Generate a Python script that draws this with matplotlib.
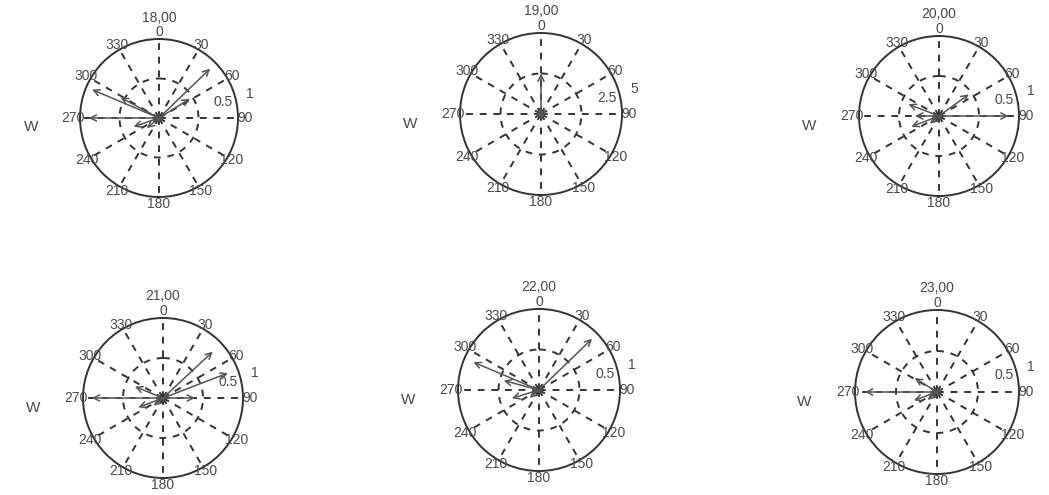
import numpy as np
import matplotlib.pyplot as plt

plt.rcParams['font.family'] = ['Liberation Sans', 'DejaVu Sans']

# wind vectors per hour: direction (deg, clockwise from north) and speed
titles = ['18,00', '19,00', '20,00', '21,00', '22,00', '23,00']

dir_18 = [270, 293, 298, 46, 58, 251, 200, 120, 230]
spd_18 = [0.89, 0.92, 0.55, 0.90, 0.46, 0.34, 0.08, 0.06, 0.2]

dir_19 = [0, 250, 110, 300, 200, 40]
spd_19 = [2.5, 0.35, 0.3, 0.25, 0.2, 0.3]

dir_20 = [90, 54, 291, 249, 270, 160, 230]
spd_20 = [0.87, 0.46, 0.41, 0.37, 0.30, 0.07, 0.15]

dir_21 = [270, 47, 69, 90, 292, 249, 170, 230]
spd_21 = [0.89, 0.85, 0.87, 0.40, 0.38, 0.33, 0.06, 0.15]

dir_22 = [293, 46, 253, 285, 140, 230]
spd_22 = [0.88, 0.91, 0.35, 0.45, 0.07, 0.15]

dir_23 = [270, 302, 250, 60, 150, 230]
spd_23 = [0.88, 0.32, 0.30, 0.08, 0.06, 0.15]

directions = [dir_18, dir_19, dir_20, dir_21, dir_22, dir_23]
speeds = [spd_18, spd_19, spd_20, spd_21, spd_22, spd_23]
rmax = [1, 5, 1, 1, 1, 1]
rlabels = [['0.5', '1'], ['2.5', '5'], ['0.5', '1'],
           ['0.5', '1'], ['0.5', '1'], ['0.5', '1']]

# pixel centre and radius of each compass
centres = [(159, 118, 79), (541, 114, 81), (939, 116, 80),
           (163, 398, 80), (539, 390, 81), (937, 392, 82)]

W, H = 1049, 495
fig = plt.figure(figsize=(W / 100, H / 100), dpi=100)
fig.patch.set_facecolor('white')

txt = '#4a4a4a'
ln = '#333333'
fs = 10

for i in range(6):
    cx, cy, rad = centres[i]
    ax = fig.add_axes([(cx - rad) / W, (H - cy - rad) / H, 2 * rad / W, 2 * rad / H],
                      projection='polar')
    ax.set_theta_zero_location('N')
    ax.set_theta_direction(-1)
    rm = rmax[i]
    ax.set_ylim(0, rm)
    ax.set_xticks(np.radians(np.arange(0, 360, 30)))
    ax.set_xticklabels([])
    ax.set_yticks([rm / 2])
    ax.set_yticklabels([])
    ax.grid(True, color=ln, linestyle=(0, (3.5, 3.5)), linewidth=1.4)
    ax.spines['polar'].set_color(ln)
    ax.spines['polar'].set_linewidth(1.4)
    ax.set_facecolor('none')

    for a in range(0, 360, 30):
        r_lab = 1.06 if a % 90 else 1.09
        ax.text(np.radians(a), rm * r_lab, str(a), ha='center', va='center',
                fontsize=fs, color=txt, clip_on=False)
    ax.text(np.radians(76), rm * 0.84, rlabels[i][0], ha='center', va='center',
            fontsize=fs, color=txt, clip_on=False)
    ax.text(np.radians(75), rm * 1.19, rlabels[i][1], ha='center', va='center',
            fontsize=fs, color=txt, clip_on=False)
    ax.text(0, rm * 1.27, titles[i], ha='center', va='center',
            fontsize=fs, color=txt, clip_on=False)
    ax.text(-0.31, 0.44, 'W', transform=ax.transAxes, ha='center', va='center',
            fontsize=fs + 1, color=txt)

    for d, s in zip(directions[i], speeds[i]):
        ax.annotate('', xy=(np.radians(d), s), xytext=(0, 0),
                    arrowprops=dict(arrowstyle='->', color='#555555', lw=1.1,
                                    shrinkA=0, shrinkB=0, mutation_scale=11))

fig.savefig('out.png', dpi=100)
